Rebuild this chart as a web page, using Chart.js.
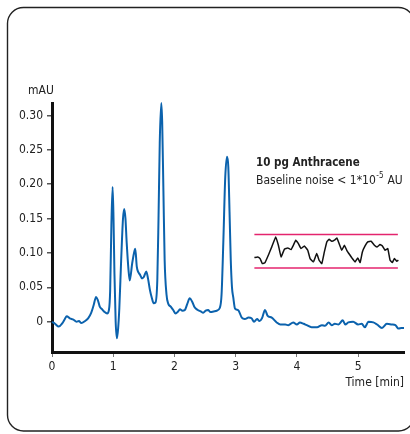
<!DOCTYPE html>
<html><head><meta charset="utf-8">
<script src="https://cdn.jsdelivr.net/npm/chart.js@4/dist/chart.umd.min.js"></script>
<style>html,body{margin:0;padding:0;background:#fff;overflow:hidden}#wrap{width:410px;height:434px;position:relative}</style>
</head><body><div id="wrap"><canvas id="c" width="410" height="434"></canvas></div>
<script>
// Chromatogram (time in min, absorbance in mAU)
const timeMin = [0.00,0.05,0.11,0.17,0.21,0.24,0.29,0.35,0.40,0.44,0.48,0.54,0.59,0.64,0.68,0.72,0.75,0.78,0.82,0.86,0.90,0.93,0.95,0.97,0.99,1.005,1.02,1.04,1.06,1.08,1.10,1.13,1.16,1.18,1.20,1.22,1.25,1.27,1.31,1.34,1.36,1.385,1.41,1.44,1.47,1.50,1.54,1.57,1.60,1.63,1.66,1.69,1.72,1.74,1.76,1.785,1.80,1.82,1.84,1.87,1.90,1.94,1.98,2.02,2.06,2.09,2.13,2.17,2.21,2.25,2.29,2.33,2.38,2.43,2.47,2.51,2.55,2.59,2.64,2.69,2.74,2.77,2.80,2.83,2.86,2.88,2.90,2.92,2.94,2.96,2.99,3.04,3.10,3.15,3.21,3.26,3.30,3.35,3.39,3.43,3.48,3.52,3.59,3.67,3.73,3.81,3.86,3.94,4.00,4.05,4.11,4.16,4.24,4.33,4.41,4.46,4.52,4.57,4.62,4.68,4.75,4.79,4.84,4.92,5.00,5.06,5.11,5.17,5.25,5.31,5.39,5.47,5.55,5.61,5.66,5.71,5.75];
const absorbance = [0.000,-0.003,-0.007,-0.002,0.004,0.008,0.005,0.003,0.000,0.001,-0.002,0.001,0.005,0.013,0.024,0.036,0.031,0.022,0.018,0.014,0.012,0.017,0.045,0.140,0.196,0.150,0.070,0.000,-0.024,-0.010,0.020,0.090,0.150,0.164,0.150,0.115,0.075,0.060,0.085,0.100,0.106,0.080,0.072,0.068,0.063,0.065,0.073,0.062,0.046,0.035,0.027,0.028,0.060,0.150,0.260,0.318,0.290,0.190,0.090,0.040,0.026,0.022,0.017,0.012,0.015,0.018,0.016,0.017,0.026,0.034,0.029,0.021,0.017,0.015,0.013,0.016,0.017,0.014,0.015,0.016,0.020,0.040,0.120,0.210,0.240,0.225,0.160,0.090,0.050,0.036,0.019,0.017,0.006,0.004,0.006,0.005,0.000,0.004,0.001,0.005,0.017,0.009,0.006,-0.001,-0.004,-0.004,-0.005,-0.001,-0.004,-0.001,-0.003,-0.005,-0.008,-0.008,-0.005,-0.006,-0.001,-0.005,-0.003,-0.004,0.002,-0.004,-0.001,0.000,-0.004,-0.003,-0.008,0.000,-0.001,-0.004,-0.009,-0.003,-0.004,-0.005,-0.010,-0.009,-0.009];

// Inset: baseline noise trace (plotted in the main chart's units)
const noiseTime = [3.306,3.361,3.399,3.436,3.480,3.534,3.590,3.655,3.698,3.742,3.796,3.851,3.905,3.943,3.982,4.025,4.069,4.122,4.178,4.216,4.270,4.325,4.363,4.407,4.449,4.489,4.526,4.570,4.613,4.652,4.690,4.734,4.776,4.815,4.869,4.907,4.951,4.995,5.033,5.070,5.114,5.158,5.212,5.266,5.310,5.359,5.397,5.441,5.485,5.523,5.559,5.593,5.632,5.658];
const noiseValue = [0.0933,0.0942,0.0918,0.0845,0.0860,0.0967,0.1088,0.1233,0.1112,0.0942,0.1054,0.1073,0.1049,0.1112,0.1185,0.1136,0.1063,0.1102,0.1039,0.0918,0.0870,0.0991,0.0894,0.0845,0.1015,0.1160,0.1199,0.1170,0.1185,0.1218,0.1136,0.1039,0.1112,0.1039,0.0967,0.0918,0.0870,0.0928,0.0860,0.1015,0.1102,0.1160,0.1170,0.1112,0.1088,0.1122,0.1102,0.1039,0.1063,0.0894,0.0860,0.0918,0.0879,0.0894];
const noiseBandTime = [3.306, 5.65];
const noiseUpper = [0.1267, 0.1267];
const noiseLower = [0.0782, 0.0782];

const xTicks = [0,1,2,3,4,5];
const yTicks = [0,0.05,0.10,0.15,0.20,0.25,0.30];

const FONT = "'Liberation Sans Narrow','DejaVu Sans Condensed','Arial Narrow',sans-serif";
Chart.defaults.font.family = FONT;
Chart.defaults.color = '#222';

const pts = (xs, ys) => xs.map((x, i) => ({x, y: ys[i]}));

const decor = {
  id: 'decor',
  beforeDraw(chart) {
    const ctx = chart.ctx;
    ctx.save();
    ctx.fillStyle = '#fff';
    ctx.fillRect(0, 0, chart.width, chart.height);
    ctx.strokeStyle = '#222';
    ctx.lineWidth = 1.4;
    ctx.beginPath();
    ctx.roundRect(7.5, 7.5, 407, 423.5, 16);
    ctx.stroke();
    ctx.restore();
  },
  afterDraw(chart) {
    const ctx = chart.ctx;
    ctx.save();
    ctx.fillStyle = '#222';
    ctx.textBaseline = 'alphabetic';
    ctx.font = "12px " + FONT;
    ctx.textAlign = 'left';
    ctx.fillText('mAU', 28, 94);
    ctx.textAlign = 'right';
    ctx.fillText('Time [min]', 404, 386);
    ctx.textAlign = 'left';
    ctx.font = "bold 11.5px " + FONT;
    ctx.fillText('10 pg Anthracene', 256, 166);
    ctx.font = "12px " + FONT;
    let x = 256;
    const t1 = 'Baseline noise < 1*10';
    ctx.fillText(t1, x, 184);
    x += ctx.measureText(t1).width;
    ctx.font = "8px " + FONT;
    ctx.fillText('-5', x + 0.5, 178);
    x += ctx.measureText('-5').width + 1;
    ctx.font = "12px " + FONT;
    ctx.fillText(' AU', x, 184);
    ctx.restore();
  }
};

new Chart(document.getElementById('c'), {
  type: 'line',
  data: {
    datasets: [
      { data: pts(timeMin, absorbance), borderColor: '#0b62ad', borderWidth: 2, pointRadius: 0, cubicInterpolationMode: 'monotone', clip: false },
      { data: pts(noiseTime, noiseValue), borderColor: '#111', borderWidth: 1.5, pointRadius: 0, tension: 0.1 },
      { data: pts(noiseBandTime, noiseUpper), borderColor: '#e4246e', borderWidth: 1.5, pointRadius: 0 },
      { data: pts(noiseBandTime, noiseLower), borderColor: '#e4246e', borderWidth: 1.5, pointRadius: 0 }
    ]
  },
  options: {
    responsive: false,
    animation: false,
    events: [],
    layout: { padding: { left: 0, right: 6, top: 103, bottom: 62 } },
    plugins: { legend: { display: false }, tooltip: { enabled: false } },
    scales: {
      x: {
        type: 'linear', min: 0, max: 5.75,
        afterFit(s) { s.height = 20; },
        afterBuildTicks(s) { s.ticks = xTicks.map(v => ({value: v})); },
        border: { display: true, color: '#111', width: 3 },
        grid: { drawOnChartArea: false, drawTicks: true, tickLength: 5, color: '#777', lineWidth: 1 },
        ticks: { padding: 3, font: { size: 12 }, color: '#222', callback: v => String(v) }
      },
      y: {
        type: 'linear', min: -0.044, max: 0.318,
        afterFit(s) { s.width = 52; },
        afterBuildTicks(s) { s.ticks = yTicks.map(v => ({value: v})); },
        border: { display: true, color: '#111', width: 3 },
        grid: { drawOnChartArea: false, drawTicks: true, tickLength: 5, color: '#555', lineWidth: 1.5 },
        ticks: { padding: 4, font: { size: 12 }, color: '#222', callback: v => v === 0 ? '0' : v.toFixed(2) }
      }
    }
  },
  plugins: [decor]
});
</script>
</body></html>
